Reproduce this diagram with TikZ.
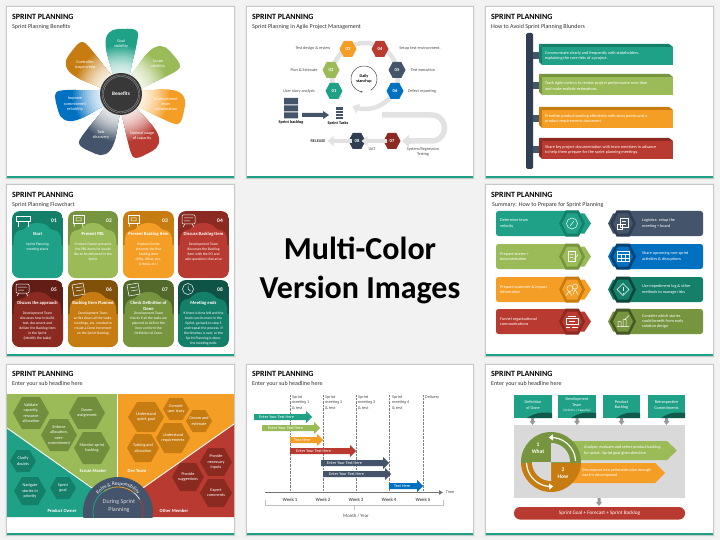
\documentclass[tikz,border=0pt]{standalone}
\usepackage{fontspec}
\setmainfont{Carlito}
\usetikzlibrary{arrows.meta,decorations.text}
\definecolor{cteal}{HTML}{1FA187}
\definecolor{cgreen}{HTML}{9BBB59}
\definecolor{corange}{HTML}{F59E25}
\definecolor{cred}{HTML}{B83A30}
\definecolor{cnavy}{HTML}{44546A}
\definecolor{cblue}{HTML}{0070C0}
\definecolor{dteal}{HTML}{15806A}
\definecolor{dgreen}{HTML}{76953E}
\definecolor{dorange}{HTML}{C67C10}
\definecolor{dred}{HTML}{8B2A20}
\definecolor{dnavy}{HTML}{2F3E52}
\definecolor{lgrey}{HTML}{E2E2E2}
\newcounter{nn}
\newcommand{\lab}[4][]{\stepcounter{nn}\node[#1] (n\thenn) at (#2,#3) {#4};}
\tikzset{
 x=1pt,y=-1pt,
 ttl/.style={anchor=west,inner sep=0,font=\fontsize{8}{9}\selectfont\bfseries,text=black},
 subt/.style={anchor=west,inner sep=0,font=\fontsize{6}{7}\selectfont,text=black!80},
 wt/.style={inner sep=0,align=center,text=white,font=\fontsize{4.2}{5.3}\selectfont},
 wtl/.style={wt,align=left,anchor=west},
 wtb/.style={wt,font=\fontsize{4.6}{5.4}\selectfont\bfseries},
 gt/.style={inner sep=0,align=center,text=black!70,font=\fontsize{4.2}{5.3}\selectfont},
 gtb/.style={gt,font=\fontsize{4.2}{5.3}\selectfont\bfseries,text=black!80},
 band/.style={draw=lgrey,line width=4.5pt},
 garrow/.style={band,-{Triangle[length=6pt,width=10pt]},shorten >=2pt,shorten <=2pt},
 ico/.style={draw=white,line width=.5pt,fill=none},
 dotl/.style={draw=black!50,line width=.4pt,densely dotted},
}
\newcommand{\slidebg}[6]{%
 \fill[black!8] ({#1-2},{#2-2}) rectangle ({#3+2},{#4+2});
 \fill[black!22] ({#1-.8},{#2-.8}) rectangle ({#3+.8},{#4+.8});
 \fill[white] (#1,#2) rectangle (#3,#4);
 \fill[cteal] (#1,{#4-2}) rectangle (#3,#4);
 \lab[ttl]{{#1+5}}{{#6}}{SPRINT PLANNING}
 \lab[subt]{{#1+5}}{{#6+10}}{#5}
}
% name,x,y,rx,ry,colour,text,textstyle
\newcommand{\hexa}[8]{%
 \fill[#6] ({#2-#4},{#3}) -- ({#2-#4*.5},{#3-#5}) -- ({#2+#4*.5},{#3-#5}) -- ({#2+#4},{#3}) -- ({#2+#4*.5},{#3+#5}) -- ({#2-#4*.5},{#3+#5}) -- cycle;
 \node[#8] (#1) at ({#2},{#3}) {#7};
}
% card: x0,y0,x1,y1,dark,light,num,title,body,icon
\newcommand{\card}[9]{%
 \begin{scope}
 \clip[rounded corners=8pt] (#1,#2) rectangle (#3,#4);
 \fill[#5] (#1,#2) rectangle (#3,#4);
 \fill[#6] (#1,{#4+1}) -- (#1,{#2+34}) -- ({#1+1.5},{#2+34}) .. controls ({#1+1.5},{#2+22}) and ({#1+5},{#2+19}) .. ({#1+10},{#2+19})
   .. controls ({#1+14},{#2+19}) and ({#1+14},{#2+12}) .. ({(#1+#3)/2},{#2+12})
   .. controls ({#3-14},{#2+12}) and ({#3-14},{#2+19}) .. ({#3-10},{#2+19})
   .. controls ({#3-5},{#2+19}) and ({#3-1.5},{#2+22}) .. ({#3-1.5},{#2+34}) -- (#3,{#2+34}) -- (#3,{#4+1}) -- cycle;
 \end{scope}
 \lab[wtb,font=\fontsize{5.5}{6}\selectfont\bfseries]{{#3-9}}{{#2+10}}{#7}
 \lab[wtb,anchor=north]{{(#1+#3)/2}}{{#2+21.5}}{#8}
 \lab[wt,anchor=north,font=\fontsize{3.7}{5.1}\selectfont]{{(#1+#3)/2}}{{#2+31.5}}{#9}
}
\newcommand{\iconsign}{\draw[ico] (4,5) rectangle (18,10); \draw[ico] (6,10) -- (6,16) (16,10) -- (16,16);}
\newcommand{\iconboard}{\draw[ico] (5,4) rectangle (16,12); \draw[ico] (8,7) rectangle (13,10) (7,12) -- (6,16) (14,12) -- (15,16);}
\newcommand{\iconscreen}{\draw[ico,rounded corners=1pt] (4,4) rectangle (17,13); \draw[ico] (6,7) -- (15,7) (6,10) -- (12,10) (7,13) -- (5,16) (14,13) -- (16,16);}
\newcommand{\iconclock}{\draw[ico] (10,9) circle[radius=5.5pt]; \draw[ico] (10,5.5) -- (10,9) -- (12.5,11);}
\newcommand{\iconpaper}{\draw[ico] (4,5) -- (15,3) -- (17,14) -- (6,16) -- cycle; \draw[ico] (7,8) -- (14,6.8) (8,11) -- (15,9.8);}
% pills
\newcommand{\pillL}[6]{%
 \fill[#2,rounded corners=2.5pt] (496,#1) rectangle (580,{#1+25});
 \hexa{pl#6}{578}{#1+12.5}{13}{10}{#2}{}{inner sep=0}
 \hexa{pd#6}{572}{#1+12.5}{13}{13}{#3}{}{inner sep=0}
 \hexa{pm#6}{572}{#1+12.5}{10}{10}{#2}{}{inner sep=0}
 \lab[wtl]{500}{{#1+12.5}}{#4}
 \begin{scope}[shift={(572,{#1+12.5})}] #5 \end{scope}
}
\newcommand{\pillR}[6]{%
 \fill[#2,rounded corners=2.5pt] (617,#1) rectangle (703,{#1+25});
 \hexa{pl#6}{618}{#1+12.5}{10}{10}{#2}{}{inner sep=0}
 \hexa{pd#6}{623}{#1+12.5}{13}{13}{#3}{}{inner sep=0}
 \hexa{pm#6}{623}{#1+12.5}{10}{10}{#2}{}{inner sep=0}
 \lab[wtl]{642}{{#1+12.5}}{#4}
 \begin{scope}[shift={(623,{#1+12.5})}] #5 \end{scope}
}
% blunder box: ytop, main, dark, text
\newcommand{\blunder}[4]{%
 \fill[cnavy] (533,{#1+8}) rectangle (541,{#1+15});
 \fill[#3] (539,#1) -- (669,#1) -- (673,{#1+3}) -- (542,{#1+3}) -- cycle;
 \fill[#3] (539,#1) -- (542,{#1+3}) -- (542,{#1+21}) -- (539,{#1+18}) -- cycle;
 \fill[#2] (542,{#1+3}) rectangle (673,{#1+21});
 \lab[wtl]{545}{{#1+12}}{#4}
}
% gantt arrow
\newcommand{\garr}[6]{%
 \fill[#4] (#1,{#3-3}) -- ({#2-6},{#3-3}) -- ({#2-6},{#3-6}) -- (#2,#3) -- ({#2-6},{#3+6}) -- ({#2-6},{#3+3}) -- (#1,{#3+3}) -- cycle;
 \lab[wtl]{#5}{#3}{#6}
}
\newcommand{\topbox}[3]{%
 \begin{scope}
 \clip (#1,395) rectangle (#2,418);
 \fill[cteal] (#1,395) rectangle (#2,418);
 \fill[dteal!70!black] ({#1+13},418) .. controls ({#1+22},412) and ({#2-8},412) .. (#2,413) -- (#2,418) -- cycle;
 \end{scope}
 \lab[wt]{{(#1+#2)/2}}{405}{#3}
}
\begin{document}
\begin{tikzpicture}
\useasboundingbox (0,0) rectangle (720,540);
\fill[black!5] (0,0) rectangle (720,540);
% ---------- slide 1
\slidebg{7}{7}{234}{178}{Sprint Planning Benefits}{17}
\foreach \ang/\col in {0/cteal,51/cgreen,103/corange,154/cred,206/cnavy,257/cblue,309/dorange}{
 \begin{scope}[shift={(121,94)},rotate=-\ang]
 \clip (-7,-16) .. controls (-10,-30) and (-15,-40) .. (-15.5,-50) .. controls (-16,-60) and (-10,-65) .. (-3,-65)
  .. controls (5,-65) and (17,-67) .. (17,-60) .. controls (17,-50) and (11,-35) .. (8,-16) -- cycle;
 \fill[\col] (0,0) circle[radius=70pt];
 \foreach \rr/\pc in {48/92,46/84,44/76,42/68,40/60,38/52,36/46,34/40,32/34,30/29,28/25,26/21,24/18,22/15}{
  \fill[\col!\pc!white] (0,0) circle[radius=\rr pt];
 }
 \end{scope}
}
\fill[black!78] (121,94) circle[radius=21pt];
\draw[white!70!black,line width=.25pt] (121,94) circle[radius=19pt] (121,94) circle[radius=17.5pt];
\lab[wtb,font=\fontsize{5.2}{6}\selectfont\bfseries]{121}{94}{Benefits}
\lab[wt]{121}{44}{Goal\\visibility}
\lab[wt]{158}{64}{Scope\\visibility}
\lab[wt]{166}{104}{Improvement\\team\\collaboration}
\lab[wt]{142}{136}{Optimal usage\\of capacity}
\lab[wt]{101}{135}{Task\\discovery}
\lab[wt]{75}{104}{Improve\\commitment\\reliability}
\lab[wt]{85}{65}{Controller\\scope creep}
% ---------- slide 2
\slidebg{247}{7}{473}{178}{Sprint Planning in Agile Project Management}{17}
\draw[lgrey,line width=4.5pt] plot[domain=222:-20,samples=50] ({365+33*cos(\x)},{76-33*sin(\x)});
\draw[lgrey,line width=4.5pt,-{Triangle[length=6pt,width=10pt]}] plot[domain=-20:-112,samples=30] ({365+33*cos(\x)},{76-33*sin(\x)});
\draw[black!70,line width=.5pt,-{Stealth[length=2pt]}] plot[domain=-60:265,samples=50] ({364+13*cos(\x)},{79-13*sin(\x)});
\lab[gtb,text=black]{364}{79}{Daily\\stand-up}
\hexa{h1}{334}{91}{8.5}{8}{cteal}{01}{wtb}
\hexa{h2}{331}{70}{8.5}{8}{cgreen}{02}{wtb}
\hexa{h3}{348}{49}{8.5}{8}{corange}{03}{wtb}
\hexa{h4}{380}{49}{8.5}{8}{cred}{04}{wtb}
\hexa{h5}{397}{70}{8.5}{8}{cnavy}{05}{wtb}
\hexa{h6}{395}{91}{8.5}{8}{cblue}{06}{wtb}
\hexa{h7}{392}{141}{8.5}{8}{dred}{07}{wtb}
\hexa{h8}{357}{141}{8.5}{8}{dnavy}{08}{wtb}
\lab[gt]{313}{48}{Test design \& review}
\lab[gt]{304}{70}{Plan \& Estimate}
\lab[gt]{299}{91}{User story analysis}
\lab[gt]{420}{48}{Setup test environment.}
\lab[gt]{423}{70}{Test execution}
\lab[gt]{422}{91}{Defect reporting}
\lab[gt]{423}{152}{System/Regression\\Testing}
\lab[gt]{372}{149}{UAT}
\node[gtb] (rel) at (318,141) {RELEASE};
\lab[gtb,text=black]{291}{122}{Sprint backlog}
\lab[gtb,text=black]{338}{123}{Sprint Tasks}
\fill[cnavy] (284,98) rectangle (298,104.5) (284,105.5) rectangle (298,111.5) (284,112.5) rectangle (298,118.5);
\fill[cnavy] (336,107) rectangle (343,119);
\draw[white,line width=.25pt] (336,110) -- (343,110) (336,113) -- (343,113) (336,116) -- (343,116);
\fill[cnavy] (302,113) -- (323,113) -- (323,111) -- (329,115) -- (323,119) -- (323,117) -- (302,117) -- cycle;
\coordinate (bs) at (382,115);
\coordinate (be) at (402,141);
\draw[lgrey,line width=5.5pt] (bs) -- (431,115) .. controls (449,115) and (449,141) .. (431,141) -- (410,141);
\draw[lgrey,line width=5.5pt,-{Triangle[length=7pt,width=12pt]}] (412,141) -- (be);
\draw[garrow] (h7) -- (h8);
\draw[garrow] (h8) -- (rel);
% ---------- slide 3
\slidebg{486}{7}{713}{178}{How to Avoid Sprint Planning Blunders}{17}
\fill[dnavy,rounded corners=1.5pt] (526,33) rectangle (533,169);
\blunder{44}{cteal}{dteal}{Communicate clearly and frequently with stakeholders,\\explaining the core risks of a project.}
\blunder{74}{cgreen}{dgreen}{Track Agile metrics to review project performance over time\\and make realistic estimations.}
\blunder{107}{corange}{dorange}{Prioritize product backlog effectively with story points and a\\product requirements document.}
\blunder{138}{cred}{dred}{Share key project documentation with team members in advance\\to help them prepare for the sprint planning meetings.}
% ---------- slide 4
\slidebg{7}{185}{234}{356}{Sprint Planning Flowchart}{195}
\card{12}{211}{63}{278}{dteal}{cteal}{01}{Start}{Sprint Planning\\meeting starts}
\card{68}{211}{118}{278}{dgreen}{cgreen}{02}{Present PBL}{Product Owner presents\\the PBL Items he would\\like to be delivered in the\\Sprint}
\card{123}{211}{174}{278}{dorange}{corange}{03}{Present Backlog Item}{Product Owner\\presents the first\\backlog item\\(Why, What, Acc.\\Criteria, etc.)}
\card{178}{211}{229}{278}{dred}{cred}{04}{Discuss Backlog Item}{Development Team\\discusses the Backlog\\Item with the PO and\\asks questions that arise}
\card{12}{280}{63}{347}{dred!70!black}{dred}{05}{Discuss the approach}{Development Team\\discusses how to build,\\test, document and\\deliver the Backlog Item\\in the Sprint\\(identify the tasks)}
\card{68}{280}{118}{347}{dorange!65!black}{dorange}{06}{Backlog Item Planned}{Development Team\\writes down all the tasks,\\meetings, etc. needed to\\create a Done Increment\\on the Sprint Backlog}
\card{123}{280}{174}{347}{dgreen!70!black}{dgreen}{07}{Check Definition of\\Done}{Development Team\\checks if all the tasks are\\planned to deliver the\\Item conform the\\Definition of Done}
\card{178}{280}{229}{347}{dteal!65!black}{dteal}{08}{Meeting ends}{If there is time left and the\\team can do more in the\\Sprint, go back to step 3\\and repeat the process. If\\the timebox is over, or the\\Sprint Planning is done,\\the meeting ends}
\begin{scope}[shift={(12,211)}] \iconsign \end{scope}
\begin{scope}[shift={(68,211)}] \iconboard \end{scope}
\begin{scope}[shift={(123,211)}] \iconboard \end{scope}
\begin{scope}[shift={(178,211)}] \iconscreen \end{scope}
\begin{scope}[shift={(12,280)}] \iconscreen \end{scope}
\begin{scope}[shift={(68,280)}] \iconpaper \end{scope}
\begin{scope}[shift={(123,280)}] \iconpaper \end{scope}
\begin{scope}[shift={(178,280)}] \iconclock \end{scope}
% ---------- slide 5
\slidebg{486}{185}{713}{356}{\hspace{1pt}Summary: How to Prepare for Sprint Planning}{195}
\pillL{211}{cteal}{dteal}{Determine team\\velocity}{\draw[ico] (0,0) circle[radius=5.5pt]; \draw[ico] (-2,2.5) -- (0,0) -- (2,-2.5);}{a}
\pillL{244}{cgreen}{dgreen}{Prepare stories +\\documentation}{\draw[ico] (-4,-5) rectangle (3,5); \draw[ico] (-2,-2) -- (1,-2) (-2,1) -- (1,1) (2,3) -- (6,-2);}{b}
\pillL{277}{corange}{dorange}{Prepare customer \& impact\\information}{\draw[ico] (-2,-1) circle[radius=3pt] (3,-3) circle[radius=2.5pt]; \draw[ico] (-6,6) -- (-3,2) -- (0,6) (1,5) -- (3,0) -- (6,5);}{c}
\pillL{309}{cred}{dred}{Funnel organizational\\communications}{\draw[ico] (-6,-3) rectangle (6,3); \draw[ico] (-4,-5) -- (4,-5) (-6,5.5) -- (-2,5.5) (0,5.5) -- (6,5.5) (-3,0) -- (3,0);}{d}
\pillR{211}{cnavy}{dnavy}{Logistics: setup the\\meeting + board}{\draw[ico] (-3,-5) rectangle (5,4); \draw[ico] (-6,1) rectangle (-1,6); \draw[ico] (-1,-2) -- (3,-2) (0,1) -- (3,1);}{e}
\pillR{244}{cblue}{cblue!60!black}{Share upcoming non-sprint\\activities \& disruptions}{\draw[ico] (-6,-5) rectangle (6,5); \draw[ico] (-6,-2) -- (6,-2) (-2,-2) -- (-2,5) (2,-2) -- (2,5) (-6,1.5) -- (6,1.5);}{f}
\pillR{277}{dteal}{dteal!55!black}{Use impediment log \& other\\methods to manage risks}{\draw[ico] (0,-6) -- (6,0) -- (0,6) -- (-6,0) -- cycle; \draw[ico] (0,-3) -- (0,1.5) (0,3) -- (0,3.5);}{g}
\pillR{309}{dgreen}{dgreen!60!black}{Consider which stories\\could benefit from early\\solution design}{\draw[ico] (-6,5) -- (6,5) (-5,5) -- (-5,0) -- (-2,0) -- (-2,5) (0,5) -- (0,-2) -- (3,-2) -- (3,5) (2,-2) -- (6,-6);}{h}
% ---------- slide 6
\slidebg{7}{365}{234}{535}{Enter your sub headline here}{374}
\fill[cgreen] (7,394) rectangle (117.5,506);
\fill[corange] (117.5,394) rectangle (234,506);
\fill[cteal] (7,428) -- (118,506.4) -- (118,517) -- (7,517) -- cycle;
\fill[cred] (234,424) -- (118,505.6) -- (118,517) -- (234,517) -- cycle;
\draw[white,line width=.9pt] (117.5,394) -- (117.5,480) (7,428) -- (92,488) (234,424) -- (143,488);
\hexa{s1}{31}{413}{18}{16}{dgreen!95!black}{Validate\\capacity,\\resource\\allocation}{wt}
\hexa{s2}{87}{413}{18}{16}{dgreen!95!black}{Owner\\assignment}{wt}
\hexa{s3}{59}{435}{18}{16}{dgreen!95!black}{Enforce\\allocation,\\over-\\commitment}{wt}
\hexa{s4}{92}{448}{18}{16}{dgreen!95!black}{Monitor sprint\\backlog}{wt}
\hexa{d1}{146}{417}{18}{15}{dorange}{Understand\\sprint goal}{wt}
\hexa{d2}{176}{409}{13}{11}{dorange}{Commit\\user story}{wt}
\hexa{d3}{199}{421}{13}{11}{dorange}{Groom and\\estimate}{wt}
\hexa{d4}{173}{438}{17}{15}{dorange}{Understand\\requirements}{wt}
\hexa{d5}{143}{448}{16}{14}{dorange}{Tasking and\\allocation}{wt}
\hexa{r1}{216}{462}{16}{14}{dred}{Provide\\necessary\\inputs}{wt}
\hexa{r2}{188}{477}{16}{14}{dred}{Provide\\suggestions}{wt}
\hexa{r3}{216}{493}{16}{14}{dred}{Expert\\comments}{wt}
\hexa{p1}{23}{461}{13}{11}{dteal}{Clarify\\doubts}{wt}
\hexa{p2}{30}{491}{16}{14}{dteal}{Navigate\\stories in\\priority}{wt}
\hexa{p3}{63}{488}{13}{11}{dteal}{Sprint\\goal}{wt}
\lab[wtb]{93}{471}{Scrum Master}
\lab[wtb]{137}{471}{Dev Team}
\lab[wtb]{62}{511}{Product Owner}
\lab[wtb]{174}{511}{Other Member}
\begin{scope}
\clip (70,470) rectangle (170,517);
\fill[cnavy] (118,512) circle[radius=35pt];
\draw[cteal,line width=.8pt] plot[domain=195:125,samples=20] ({118+25*cos(\x)},{512-25*sin(\x)});
\draw[cgreen,line width=.8pt] plot[domain=125:100,samples=10] ({118+25*cos(\x)},{512-25*sin(\x)});
\draw[corange,line width=.8pt] plot[domain=100:50,samples=15] ({118+25*cos(\x)},{512-25*sin(\x)});
\draw[lgrey,line width=.8pt] plot[domain=50:30,samples=8] ({118+25*cos(\x)},{512-25*sin(\x)});
\draw[cred,line width=.8pt] plot[domain=30:-15,samples=15] ({118+25*cos(\x)},{512-25*sin(\x)});
\end{scope}
\path[decorate,decoration={text along path,text align=center,text={|\fontsize{5}{6}\selectfont\color{white}|Roles {\&} Responsibility}}]
  plot[domain=150:30,samples=40] ({118+26.8*cos(\x)},{512-26.8*sin(\x)});
\lab[wt,font=\fontsize{6}{8}\selectfont,text=white!85!black]{119}{506}{During Sprint\\Planning}
% ---------- slide 7
\slidebg{247}{365}{473}{535}{Enter your sub headline here}{374}
\foreach \vx in {290,323,356,389,423}{\draw[dotl] (\vx,395) -- (\vx,491);}
\lab[gt,anchor=north west,align=left]{292}{395.5}{Sprint\\meeting 1\\\& test}
\lab[gt,anchor=north west,align=left]{325}{395.5}{Sprint\\meeting 2\\\& test}
\lab[gt,anchor=north west,align=left]{358}{395.5}{Sprint\\meeting 3\\\& test}
\lab[gt,anchor=north west,align=left]{392}{395.5}{Sprint\\meeting 4\\\& test}
\lab[gt,anchor=north west,align=left]{425}{395.5}{Delivery}
\garr{254}{312}{417}{cteal}{259}{Enter Your Text Here}
\garr{262}{320}{428}{cgreen}{268}{Enter Your Text Here}
\garr{290}{323}{440}{corange}{294}{Text Here}
\garr{290}{356}{451}{cred}{296}{Enter Your Text Here}
\garr{321}{389}{463}{cnavy}{327}{Enter Your Text Here}
\garr{323}{391}{474}{cnavy}{329}{Enter Your Text Here}
\garr{389}{423}{486}{cblue}{394}{Text Here}
\node[gt] (tm) at (450,492.5) {Time};
\coordinate (ax) at (265,492.5);
\draw[black!55,line width=1.2pt,-{Triangle[length=4pt,width=4.5pt]}] (ax) -- (443,492.5);
\foreach \vx/\wk in {290/1,323/2,356/3,389/4,423/5}{\node[gtb,font=\fontsize{4.8}{6}\selectfont\bfseries,text=black!65] (w\wk) at (\vx,500) {Week \wk};}
\draw[black!25,line width=.6pt] (265,500) -- (265,505) -- (443,505) -- (443,500) (354,505) -- (354,510);
\lab[gt,font=\fontsize{4.8}{6}\selectfont]{356}{516}{Month / Year}
% ---------- slide 8
\slidebg{486}{365}{713}{535}{Enter your sub headline here}{374}
\fill[black!15] (514,425) rectangle (685,498);
\topbox{514}{552}{Definition\\of Done}
\topbox{558}{596}{Development\\Team\\{\fontsize{3.3}{4.5}\selectfont (Velocity × Capacity)}}
\topbox{603}{640}{Product\\Backlog}
\topbox{648}{685}{Retrospective\\Commitments}
\foreach \vx in {532.5,577,621.5,666.5}{\fill[black!40] ({\vx-1.5},418) -- ({\vx+1.5},418) -- ({\vx+1.5},421) -- ({\vx+3},421) -- (\vx,425) -- ({\vx-3},421) -- ({\vx-1.5},421) -- cycle;}
\fill[black!40] (597.5,498) -- (600.5,498) -- (600.5,502) -- (602,502) -- (599,506) -- (596,502) -- (597.5,502) -- cycle;
\fill[cgreen] (555,441) -- (667,441) -- (677,450.5) -- (667,460) -- (555,460) -- cycle;
\fill[corange] (555,463) -- (655,463) -- (665,473) -- (655,483) -- (555,483) -- cycle;
\lab[wtl]{584}{450.5}{Analyze, evaluate and select product backlog\\for sprint. Sprint goal gives direction}
\lab[wtl]{582}{473}{Decompose into actionable plan enough\\work is decomposed}
\begin{scope}
\clip (515,462) rectangle (590,500);
\fill[dorange] (551,462) circle[radius=30pt];
\end{scope}
\begin{scope}
\clip (515,430) rectangle (590,462);
\fill[dgreen] (551,462) circle[radius=30pt];
\end{scope}
\fill[black!15] plot[domain=0:90,samples=15] ({551+19*cos(\x)},{462-19*sin(\x)}) -- (551,462) -- cycle;
\fill[black!15] plot[domain=180:270,samples=15] ({551+19*cos(\x)},{462-19*sin(\x)}) -- (551,462) -- cycle;
\draw[white,line width=1.2pt,-{Triangle[length=4pt,width=6pt]}] plot[domain=2:95,samples=20] ({551+24.5*cos(\x)},{462-24.5*sin(\x)});
\draw[white,line width=1.2pt,-{Triangle[length=4pt,width=6pt]}] plot[domain=182:275,samples=20] ({551+24.5*cos(\x)},{462-24.5*sin(\x)});
\lab[wtb,font=\fontsize{5.5}{7}\selectfont\bfseries]{538}{448}{1\\What}
\lab[wtb,font=\fontsize{5.5}{7}\selectfont\bfseries]{563}{473}{2\\How}
\fill[cred,rounded corners=6pt] (514,507) rectangle (685,519.5);
\lab[wt,font=\fontsize{5.2}{6}\selectfont]{599.5}{513.2}{Sprint Goal + Forecast + Sprint Backlog}
% ---------- centre
\lab[inner sep=0,align=center,font=\fontsize{32}{39}\selectfont\bfseries,text=black]{360}{270}{Multi-Color\\Version Images}
\end{tikzpicture}
\end{document}
